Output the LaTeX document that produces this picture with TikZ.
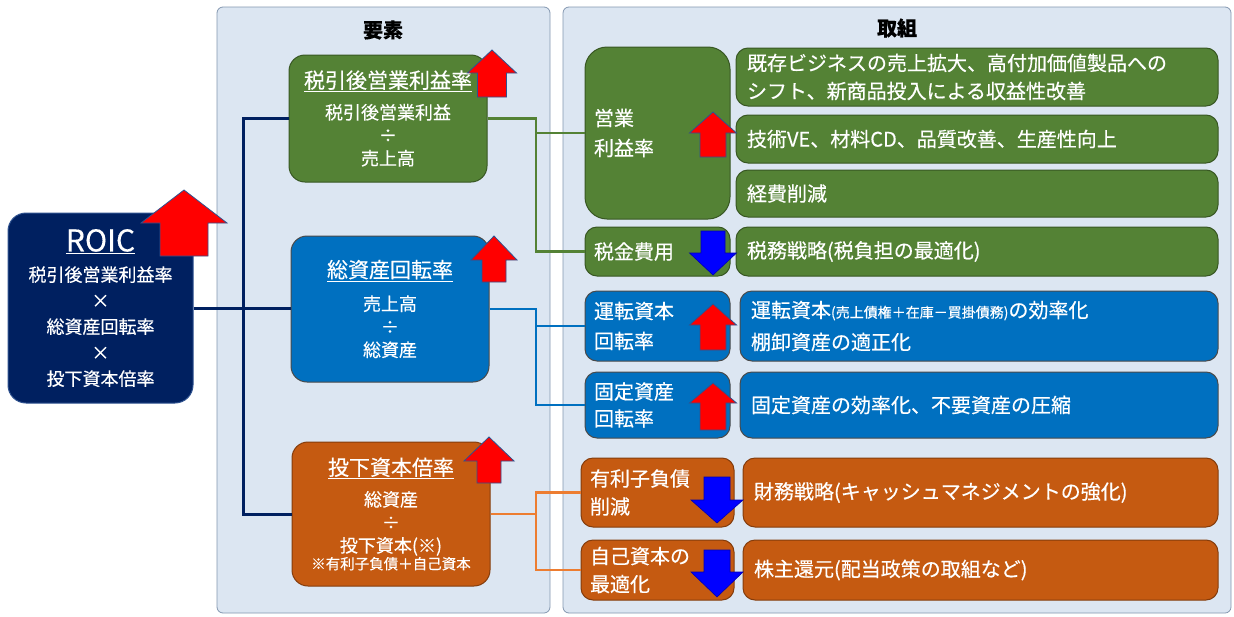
\documentclass[tikz,border=0pt]{standalone}
\usepackage{fontspec}
\setmainfont{Noto Sans CJK JP}[FakeBold=0.35]
\definecolor{panel}{HTML}{DCE6F2}
\definecolor{panelb}{HTML}{8497B0}
\definecolor{navy}{HTML}{002060}
\definecolor{gfill}{HTML}{548235}
\definecolor{gedge}{HTML}{385723}
\definecolor{bfill}{HTML}{0070C0}
\definecolor{bedge}{HTML}{4A4A4A}
\definecolor{ofill}{HTML}{C55A11}
\definecolor{oedge}{HTML}{843C0C}
\definecolor{oline}{HTML}{ED7D31}
\definecolor{arrb}{HTML}{2F528F}
\tikzset{
  panelbox/.style={fill=panel,draw=panelb,line width=0.8pt,rounded corners=6pt},
  basebox/.style={text=white,inner sep=0pt,line width=1pt,rounded corners=12pt},
  roicbox/.style={basebox,fill=navy,draw=arrb,rounded corners=18pt,align=center,font=\fontsize{18}{26}\selectfont},
  gbox/.style={basebox,fill=gfill,draw=gedge},
  bbox/.style={basebox,fill=bfill,draw=bedge},
  obox/.style={basebox,fill=ofill,draw=oedge},
  midtxt/.style={align=center,font=\fontsize{18}{23}\selectfont},
  lefttxt/.style={align=left,inner xsep=9pt,font=\fontsize{20}{30}\selectfont},
  righttxt/.style={align=left,inner xsep=11pt,font=\fontsize{20}{28}\selectfont},
  navyline/.style={draw=navy,line width=3pt},
  gline/.style={draw=gfill,line width=2.6pt},
  bline/.style={draw=bfill,line width=2.6pt},
  oline/.style={draw=oline,line width=2.6pt},
  redarr/.style={fill=red,draw=arrb,line width=0.8pt},
  bluearr/.style={fill=blue,draw=blue!70!black,line width=0.6pt},
  ttl/.style={font=\fontsize{20}{20}\selectfont\bfseries}
}
\newcommand\ArrUp[6]{% cx, tip, base, bottom, headhalf, shafthalf
  \draw[redarr] (#1,#2) -- (#1+#5,#3) -- (#1+#6,#3) -- (#1+#6,#4) -- (#1-#6,#4) -- (#1-#6,#3) -- (#1-#5,#3) -- cycle;}
\newcommand\ArrDn[6]{% cx, tip, base, top, headhalf, shafthalf
  \draw[bluearr] (#1,#2) -- (#1+#5,#3) -- (#1+#6,#3) -- (#1+#6,#4) -- (#1-#6,#4) -- (#1-#6,#3) -- (#1-#5,#3) -- cycle;}
\begin{document}
\begin{tikzpicture}[x=1pt,y=-1pt]
\useasboundingbox (0,0) rectangle (1234,616);
\fill[white] (0,0) rectangle (1234,616);
% panels
\draw[panelbox] (217,7) rectangle (550,613);
\draw[panelbox] (563,7) rectangle (1231,613);
\node[ttl] (t1) at (383,30) {要素};
\node[ttl] (t2) at (897,28) {取組};
% junction columns
\coordinate (jl) at (243,0);
\coordinate (jr) at (536,0);
% left and middle nodes
\node[roicbox,minimum width=185pt,minimum height=190pt] (roic) at (100.5,308)
  {{\fontsize{30}{30}\selectfont\underline{ROIC}}\\[4pt]税引後営業利益率\\×\\総資産回転率\\×\\投下資本倍率};
\node[gbox,midtxt,minimum width=198pt,minimum height=127pt,rounded corners=16pt] (npm) at (388,118.5)
  {{\fontsize{21}{21}\selectfont\underline{税引後営業利益率}}\\[8pt]税引後営業利益\\÷\\売上高};
\node[bbox,midtxt,minimum width=198pt,minimum height=146pt,rounded corners=16pt] (ta) at (390,309)
  {{\fontsize{21}{21}\selectfont\underline{総資産回転率}}\\[10pt]売上高\\÷\\総資産};
\node[obox,midtxt,minimum width=198pt,minimum height=144pt,rounded corners=16pt] (ic) at (391,514)
  {{\fontsize{21}{21}\selectfont\underline{投下資本倍率}}\\[8pt]総資産\\÷\\投下資本(※)\\[-6pt]{\fontsize{14.5}{16}\selectfont ※有利子負債＋自己資本}};
% right column
\node[gbox,lefttxt,minimum width=145pt,minimum height=172pt,text width=127pt,rounded corners=22pt] (opm) at (657.5,133) {営業\\利益率};
\node[gbox,righttxt,minimum width=482pt,minimum height=58pt,text width=460pt] (a1) at (977,77) {既存ビジネスの売上拡大、高付加価値製品への\\シフト、新商品投入による収益性改善};
\node[gbox,righttxt,minimum width=482pt,minimum height=48pt,text width=460pt] (a2) at (977,139) {技術VE、材料CD、品質改善、生産性向上};
\node[gbox,righttxt,minimum width=482pt,minimum height=47pt,text width=460pt] (a3) at (977,193.5) {経費削減};
\node[gbox,lefttxt,minimum width=145pt,minimum height=49pt,text width=127pt] (tax) at (657.5,251.5) {税金費用};
\node[gbox,righttxt,minimum width=482pt,minimum height=49pt,text width=460pt] (a4) at (977,251.5) {税務戦略(税負担の最適化)};
\node[bbox,lefttxt,minimum width=145pt,minimum height=70pt,text width=127pt] (wc) at (657.5,326) {運転資本\\回転率};
\node[bbox,righttxt,minimum width=478pt,minimum height=70pt,text width=456pt,font=\fontsize{20}{32}\selectfont] (a5) at (979,326) {運転資本{\fontsize{14}{14}\selectfont(売上債権＋在庫－買掛債務)}の効率化\\棚卸資産の適正化};
\node[bbox,lefttxt,minimum width=145pt,minimum height=66pt,text width=127pt,font=\fontsize{20}{27}\selectfont] (fa) at (657.5,405) {固定資産\\回転率};
\node[bbox,righttxt,minimum width=478pt,minimum height=66pt,text width=456pt] (a6) at (979,405) {固定資産の効率化、不要資産の圧縮};
\node[obox,lefttxt,minimum width=153pt,minimum height=69pt,text width=135pt,font=\fontsize{20}{28}\selectfont] (debt) at (657.5,492.5) {有利子負債\\削減};
\node[obox,righttxt,minimum width=475pt,minimum height=69pt,text width=453pt] (a7) at (980.5,492.5) {財務戦略(キャッシュマネジメントの強化)};
\node[obox,lefttxt,minimum width=153pt,minimum height=60pt,text width=135pt,font=\fontsize{20}{28}\selectfont] (eq) at (657.5,570) {自己資本の\\最適化};
\node[obox,righttxt,minimum width=475pt,minimum height=60pt,text width=453pt] (a8) at (980.5,570) {株主還元(配当政策の取組など)};
% connectors
\draw[navyline] (roic.east) -- (roic.east -| ta.west);
\draw[navyline] (npm.west) -- (jl |- npm.west) -- (jl |- ic.west) -- (ic.west);
\draw[gline] (npm.east) -- (jr |- npm.east) |- (tax.west);
\draw[gline] (jr |- opm.west) -- (opm.west);
\draw[bline] (ta.east) -- (jr |- ta.east) |- (fa.west);
\draw[bline] (jr |- wc.west) -- (wc.west);
\draw[oline] (ic.east) -- (jr |- ic.east);
\draw[oline] (debt.west) -| (jr |- eq.west) -- (eq.west);
% arrows
\ArrUp{184}{190}{223}{256}{43}{24}
\ArrUp{492}{50}{73}{97}{24.5}{14.5}
\ArrUp{494}{236}{260}{282}{23}{12}
\ArrUp{489}{437}{461}{483}{25}{12}
\ArrUp{713}{112}{133}{157}{23.5}{13}
\ArrDn{713}{275}{253}{231}{23.5}{12}
\ArrUp{713}{304}{325}{350}{23.5}{13}
\ArrUp{713}{383}{403}{430}{23.5}{13}
\ArrDn{717}{523}{500}{477}{26}{13}
\ArrDn{717}{597}{572}{550}{26}{13}
\end{tikzpicture}
\end{document}
